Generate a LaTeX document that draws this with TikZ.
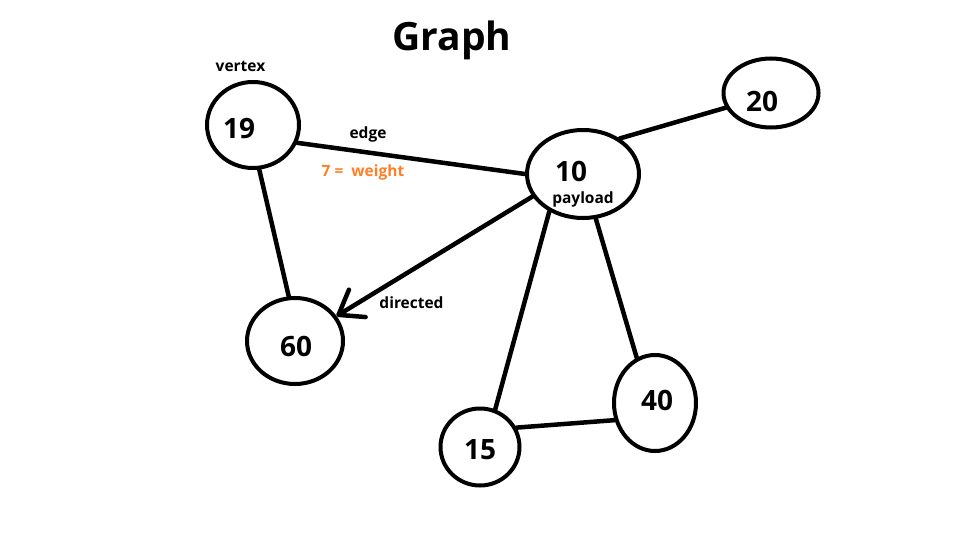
\documentclass[tikz,border=0pt]{standalone}
\usepackage{fontspec}
\setmainfont{Open Sans}
\usetikzlibrary{shapes.geometric,arrows.meta}
\definecolor{paintorange}{HTML}{FF7F27}
\tikzset{
  vert/.style={draw=black, line width=4pt, ellipse, inner sep=0pt},
  num/.style={font=\bfseries\fontsize{28}{28}\selectfont, anchor=base, inner sep=0pt},
  lbl/.style={font=\bfseries\fontsize{15.5}{16}\selectfont, anchor=base, inner sep=0pt},
  edge/.style={line width=4.5pt, line cap=round},
}
\begin{document}
\begin{tikzpicture}[x=1pt, y=-1pt]
\useasboundingbox (0,0) rectangle (960,540);
% vertices
\node[vert, minimum width=92pt, minimum height=86pt] (n19) at (253,125) {};
\node[vert, minimum width=95pt, minimum height=69pt] (n20) at (771,93) {};
\node[vert, minimum width=112pt, minimum height=88pt] (n10) at (583,174) {};
\node[vert, minimum width=96pt, minimum height=86pt] (n60) at (295,341) {};
\node[vert, minimum width=82pt, minimum height=96pt] (n40) at (655,403) {};
\node[vert, minimum width=79pt, minimum height=77pt] (n15) at (480,447) {};
% numbers
\node[num] (t19) at (239,139) {19};
\node[num] (t20) at (762,112) {20};
\node[num] (t10) at (571,182) {10};
\node[num] (t60) at (296,356) {60};
\node[num] (t40) at (657,410) {40};
\node[num] (t15) at (480,459) {15};
% labels
\node[font=\bfseries\fontsize{39}{42}\selectfont, anchor=base, inner sep=0pt] (title) at (452,51) {Graph};
\node[lbl] (lvertex) at (240.5,72) {vertex};
\node[lbl] (ledge) at (368,139) {edge};
\node[lbl, text=paintorange] (lweight) at (363,177) {7 =\ \ weight};
\node[lbl] (ldirected) at (411.5,308) {directed};
\node[lbl] (lpayload) at (583,203) {payload};
% edges
\draw[edge] (n19.-22) -- (n10.180);
\draw[edge] (n19.-82) -- (n60.98);
\draw[edge] (n10.44) -- (n20.198);
\draw[edge] (n10.228) -- (n15.68);
\draw[edge] (n10.-74) -- (n40.112);
\draw[edge] (n15.28) -- (n40.203);
\draw[edge, -{Straight Barb[length=22pt, width=32pt, line width=4.5pt, round]}] (n10.204) -- (n60.31);
\end{tikzpicture}
\end{document}
